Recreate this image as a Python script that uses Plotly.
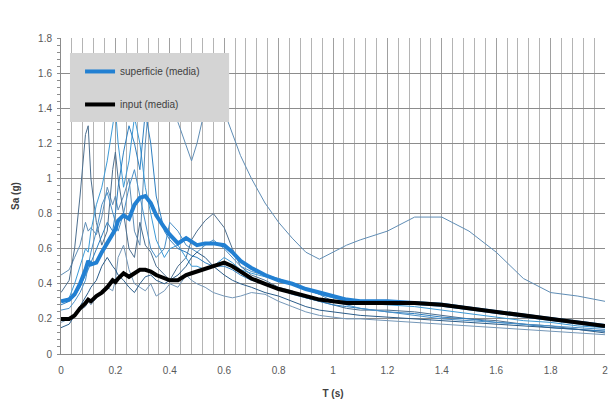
import plotly.graph_objects as go

# Periods (s) at which the spectral ordinates are given
periods = [0.00, 0.03, 0.05, 0.07, 0.09, 0.10, 0.11, 0.13, 0.15, 0.17,
           0.19, 0.20, 0.21, 0.23, 0.25, 0.27, 0.29, 0.31, 0.33, 0.35,
           0.38, 0.40, 0.43, 0.46, 0.48, 0.50, 0.53, 0.56, 0.60, 0.63,
           0.66, 0.70, 0.75, 0.80, 0.85, 0.90, 0.95, 1.00, 1.05, 1.10,
           1.20, 1.30, 1.40, 1.50, 1.60, 1.70, 1.80, 1.90, 2.00]

# Mean spectrum of the input motions (g)
input_media = [0.20, 0.20, 0.22, 0.26, 0.29, 0.31, 0.30, 0.33, 0.35, 0.38,
               0.42, 0.41, 0.43, 0.46, 0.44, 0.46, 0.48, 0.48, 0.47, 0.45,
               0.43, 0.42, 0.42, 0.45, 0.46, 0.47, 0.49, 0.50, 0.52, 0.50,
               0.47, 0.43, 0.40, 0.37, 0.35, 0.33, 0.31, 0.30, 0.29, 0.29,
               0.29, 0.29, 0.28, 0.26, 0.24, 0.22, 0.20, 0.18, 0.16]

# Mean spectrum at the surface (g)
superficie_media = [0.30, 0.31, 0.34, 0.40, 0.48, 0.53, 0.51, 0.52, 0.58, 0.63,
                    0.68, 0.71, 0.76, 0.79, 0.77, 0.85, 0.89, 0.90, 0.86, 0.79,
                    0.72, 0.68, 0.63, 0.66, 0.64, 0.62, 0.63, 0.63, 0.62, 0.58,
                    0.53, 0.49, 0.45, 0.42, 0.40, 0.37, 0.35, 0.33, 0.31, 0.30,
                    0.30, 0.29, 0.28, 0.26, 0.24, 0.22, 0.20, 0.18, 0.16]

# Surface spectra of the single records (g)
rec_1 = [0.45, 0.48, 0.55, 0.62, 0.75, 0.70, 0.72, 0.68, 0.78, 0.95,
         0.85, 0.90, 0.82, 0.90, 1.00, 0.70, 0.62, 1.20, 1.55, 1.60,
         1.50, 1.45, 1.32, 1.18, 1.10, 1.20, 1.40, 1.55, 1.38, 1.25,
         1.13, 1.00, 0.86, 0.75, 0.66, 0.58, 0.54, 0.58, 0.62, 0.65,
         0.70, 0.78, 0.78, 0.70, 0.58, 0.43, 0.35, 0.33, 0.30]
rec_2 = [0.35, 0.42, 0.60, 0.90, 1.25, 1.30, 1.00, 0.75, 0.62, 0.70,
         1.05, 1.15, 1.00, 0.80, 0.60, 0.55, 0.75, 0.62, 0.58, 0.50,
         0.45, 0.42, 0.50, 0.55, 0.65, 0.70, 0.76, 0.80, 0.72, 0.60,
         0.50, 0.45, 0.42, 0.38, 0.36, 0.32, 0.30, 0.28, 0.26, 0.25,
         0.25, 0.24, 0.22, 0.20, 0.19, 0.17, 0.16, 0.14, 0.13]
rec_3 = [0.30, 0.32, 0.40, 0.50, 0.60, 0.58, 0.70, 0.85, 0.95, 1.10,
         1.30, 1.40, 1.20, 0.95, 1.10, 1.35, 1.20, 0.95, 0.80, 0.65,
         0.55, 0.60, 0.62, 0.55, 0.50, 0.50, 0.48, 0.50, 0.55, 0.52,
         0.48, 0.46, 0.44, 0.42, 0.40, 0.37, 0.34, 0.32, 0.30, 0.29,
         0.28, 0.27, 0.25, 0.23, 0.21, 0.19, 0.18, 0.16, 0.15]
rec_4 = [0.28, 0.30, 0.33, 0.38, 0.45, 0.48, 0.52, 0.60, 0.68, 0.75,
         0.70, 0.80, 0.95, 1.15, 1.30, 1.20, 1.05, 1.38, 1.20, 0.90,
         0.70, 0.65, 0.60, 0.58, 0.56, 0.55, 0.52, 0.50, 0.50, 0.48,
         0.45, 0.42, 0.40, 0.37, 0.34, 0.32, 0.30, 0.28, 0.27, 0.26,
         0.24, 0.23, 0.21, 0.20, 0.18, 0.17, 0.15, 0.14, 0.13]
rec_5 = [0.18, 0.20, 0.22, 0.25, 0.27, 0.30, 0.28, 0.32, 0.35, 0.38,
         0.36, 0.42, 0.55, 0.62, 0.48, 0.40, 0.38, 0.36, 0.40, 0.33,
         0.36, 0.40, 0.38, 0.45, 0.42, 0.40, 0.38, 0.35, 0.33, 0.32,
         0.33, 0.35, 0.34, 0.30, 0.27, 0.24, 0.22, 0.21, 0.20, 0.20,
         0.19, 0.18, 0.17, 0.16, 0.15, 0.14, 0.13, 0.12, 0.11]
rec_6 = [0.25, 0.26, 0.30, 0.35, 0.42, 0.50, 0.58, 0.70, 0.85, 0.92,
         0.80, 0.75, 0.70, 0.80, 0.95, 1.05, 0.90, 0.75, 0.60, 0.55,
         0.60, 0.75, 0.70, 0.62, 0.60, 0.58, 0.62, 0.65, 0.60, 0.55,
         0.50, 0.47, 0.45, 0.43, 0.40, 0.37, 0.34, 0.30, 0.28, 0.26,
         0.24, 0.22, 0.20, 0.19, 0.18, 0.17, 0.16, 0.15, 0.14]
rec_7 = [0.15, 0.17, 0.22, 0.27, 0.32, 0.35, 0.38, 0.42, 0.50, 0.55,
         0.50, 0.48, 0.45, 0.42, 0.38, 0.35, 0.40, 0.44, 0.45, 0.42,
         0.40, 0.42, 0.45, 0.50, 0.55, 0.58, 0.55, 0.50, 0.45, 0.42,
         0.40, 0.38, 0.35, 0.33, 0.30, 0.27, 0.25, 0.24, 0.23, 0.22,
         0.21, 0.20, 0.19, 0.18, 0.17, 0.16, 0.15, 0.14, 0.12]

records = [rec_1, rec_2, rec_3, rec_4, rec_5, rec_6, rec_7]
record_colors = ["#5f8db5", "#4d6f8f", "#3d9ad6", "#2f7fc0",
                 "#7497b8", "#4a90c8", "#2b5d8a"]

x_ticks = [0, 0.2, 0.4, 0.6, 0.8, 1, 1.2, 1.4, 1.6, 1.8, 2]
y_ticks = [0, 0.2, 0.4, 0.6, 0.8, 1, 1.2, 1.4, 1.6, 1.8]

fig = go.Figure()

for vals, col in zip(records, record_colors):
    fig.add_trace(go.Scatter(x=periods, y=vals, mode="lines",
                             line=dict(color=col, width=1),
                             showlegend=False, hoverinfo="skip"))

fig.add_trace(go.Scatter(x=periods, y=superficie_media, mode="lines",
                         name="superficie (media)", legendgroup="a",
                         line=dict(color="#2280d2", width=4)))
fig.add_trace(go.Scatter(x=periods, y=input_media, mode="lines",
                         name="input (media)", legendgroup="b",
                         line=dict(color="#000000", width=4)))

font_family = "Liberation Sans, Arial, sans-serif"
tick_font = dict(family=font_family, size=10, color="#595959")
title_font = dict(family=font_family, size=10, color="#404040")

fig.update_layout(
    width=608, height=407,
    margin=dict(l=61, r=0, t=38, b=53),
    paper_bgcolor="white", plot_bgcolor="white",
    showlegend=True,
    legend=dict(x=0.035, y=0.94, xanchor="left", yanchor="top",
                bgcolor="rgba(0,0,0,0)", itemwidth=30,
                tracegroupgap=14, traceorder="grouped",
                font=dict(family=font_family, size=10, color="#404040")),
    shapes=[dict(type="rect", xref="paper", yref="paper",
                 x0=0.0165, x1=0.309, y0=0.734, y1=0.9525,
                 fillcolor="#d4d4d4", line=dict(width=0), layer="above")],
    xaxis=dict(range=[0, 2], tickvals=x_ticks, ticktext=[f"{v:g}" for v in x_ticks],
               showgrid=True, gridcolor="#a0a0a0", gridwidth=1,
               minor=dict(dtick=0.04, showgrid=True, gridcolor="#b4b4b4", gridwidth=1),
               showline=True, linecolor="#8c8c8c", zeroline=False,
               ticks="", tickfont=tick_font, ticklabelstandoff=7,
               ticklabeloverflow="allow",
               title=dict(text="<b>T (s)</b>", standoff=14, font=title_font)),
    yaxis=dict(range=[0, 1.8], tickvals=y_ticks, ticktext=[f"{v:g}" for v in y_ticks],
               showgrid=True, gridcolor="#8c8c8c", gridwidth=1,
               minor=dict(dtick=0.04, ticks="outside", ticklen=3,
                          tickcolor="#8c8c8c", showgrid=False),
               showline=True, linecolor="#8c8c8c", zeroline=False,
               ticks="", tickfont=tick_font, ticklabelstandoff=6,
               title=dict(text="<b>Sa (g)</b>", standoff=16, font=title_font)),
)

fig.write_html("out.html")
